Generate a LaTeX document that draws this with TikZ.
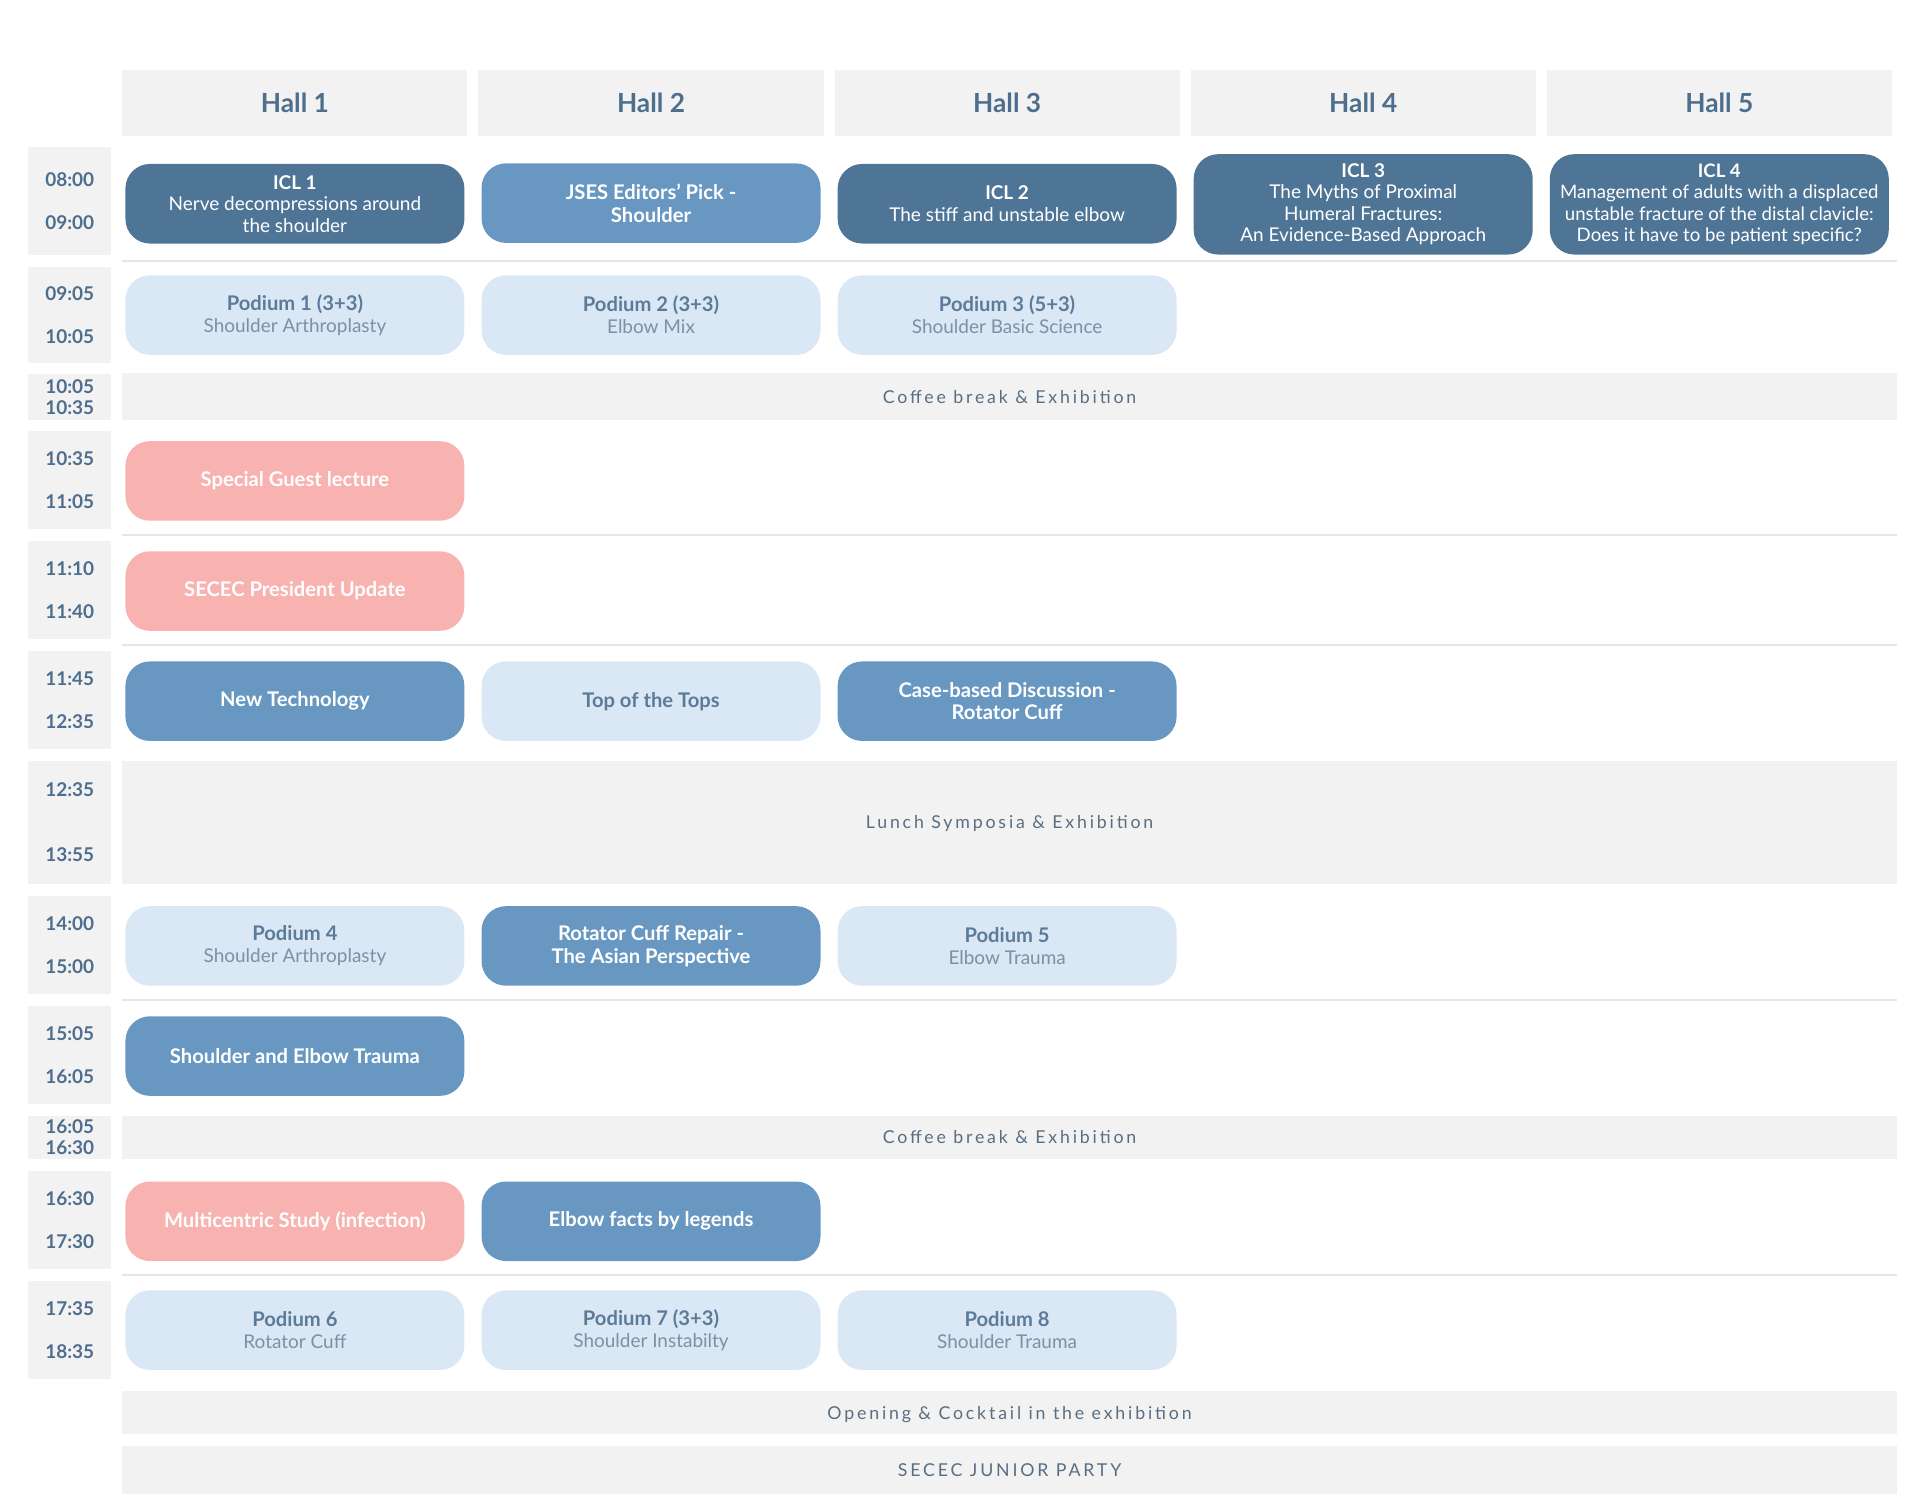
\documentclass[tikz,border=0pt]{standalone}
\usepackage{fontspec}
\setmainfont{Lato}
\newfontfamily\spacedfont{Lato}[LetterSpace=16]
\usetikzlibrary{calc}

\definecolor{hallblue}{HTML}{4E6E8E}
\definecolor{icldark}{HTML}{4F7596}
\definecolor{midblue}{HTML}{6898C2}
\definecolor{paleblue}{HTML}{DAE7F5}
\definecolor{rosepink}{HTML}{F8B3B1}
\definecolor{greyband}{HTML}{F2F2F2}
\definecolor{paletitle}{HTML}{5C7B99}
\definecolor{palesub}{HTML}{7D90A4}
\definecolor{rulegrey}{HTML}{E6E6E6}
\definecolor{bandtext}{HTML}{5A6E82}

\newcommand{\pod}[2]{{\fontsize{16.5}{18}\selectfont\bfseries\color{paletitle}#1}\\#2}

\tikzset{
    hallbox/.style={fill=greyband, minimum width=282pt, minimum height=54pt, text=hallblue, font=\fontsize{21.5}{24}\selectfont\bfseries},
    timebox/.style={fill=greyband, minimum width=68pt, inner sep=0pt, align=center, text=hallblue, font=\fontsize{15.5}{#1}\selectfont\bfseries},
    session/.style={rounded corners=20pt, minimum width=277pt, minimum height=65pt, inner sep=0pt, align=center},
    darkses/.style={session, fill=icldark, text=white, font=\fontsize{15.5}{17.5}\selectfont},
    midses/.style={session, fill=midblue, text=white, font=\fontsize{16.5}{18.5}\selectfont\bfseries},
    paleses/.style={session, fill=paleblue, text=palesub, font=\fontsize{15.5}{18}\selectfont},
    pinkses/.style={session, fill=rosepink, text=white, font=\fontsize{16.5}{18.5}\selectfont\bfseries},
    band/.style={fill=greyband, minimum width=1450pt, inner sep=0pt, text depth=0pt, text=bandtext, font=\fontsize{14.5}{16}\spacedfont}
}

\begin{document}
\begin{tikzpicture}[x=1pt,y=-1pt]
    \useasboundingbox (0,0) rectangle (1569,1234);
    \foreach \x [count=\i] in {241,532,823,1114,1405}
        \node[hallbox] (hall\i) at (\x,84) {Hall \i};
    \foreach \y/\h/\ta/\tb/\g [count=\i] in {164/88/08:00/09:00/35, 257.5/79/09:05/10:05/35, 324.5/37/10:05/10:35/17,
            392/80/10:35/11:05/35, 482/80/11:10/11:40/35, 572/80/11:45/12:35/35, 672/100/12:35/13:55/53,
            772/80/14:00/15:00/35, 862/80/15:05/16:05/35, 929.5/35/16:05/16:30/17, 997/80/16:30/17:30/35,
            1087/80/17:35/18:35/35}
        \node[timebox=\g, minimum height=\h pt, text depth=0pt] (time\i) at (57,\y) {\ta\\\tb};

    \foreach \y in {213,437,527,817,1042}
        \draw[rulegrey, line width=1.5pt] (100,\y) -- (1550,\y);

    \node[band, minimum height=38pt] (coffee1) at (825,324) {Coffee break \& Exhibition};
    \node[band, minimum height=100pt] (lunch) at (825,672) {Lunch Symposia \& Exhibition};
    \node[band, minimum height=35pt] (coffee2) at (825,929.5) {Coffee break \& Exhibition};
    \node[band, minimum height=35pt] (opening) at (825,1154.5) {Opening \& Cocktail in the exhibition};
    \node[band, minimum height=39pt] (junior) at (825,1201.5) {SECEC JUNIOR PARTY};

    \node[darkses] (icl1) at (241,166.5) {\textbf{ICL 1}\\Nerve decompressions around\\the shoulder};
    \node[midses] (jses) at (532,166) {JSES Editors’ Pick -\\Shoulder};
    \node[darkses] (icl2) at (823,166.5) {\textbf{ICL 2}\\The stiff and unstable elbow};
    \node[darkses, minimum height=82pt] (icl3) at (1114,167) {\textbf{ICL 3}\\The Myths of Proximal\\Humeral Fractures:\\An Evidence-Based Approach};
    \node[darkses, minimum height=82pt, font=\fontsize{15.2}{17.5}\selectfont] (icl4) at (1405,167) {\textbf{ICL 4}\\Management of adults with a displaced\\unstable fracture of the distal clavicle:\\Does it have to be patient specific?};

    \node[paleses] (pod1) at (241,257.5) {\pod{Podium 1 (3+3)}{Shoulder Arthroplasty}};
    \node[paleses] (pod2) at (532,257.5) {\pod{Podium 2 (3+3)}{Elbow Mix}};
    \node[paleses] (pod3) at (823,257.5) {\pod{Podium 3 (5+3)}{Shoulder Basic Science}};

    \node[pinkses] (guest) at (241,393) {Special Guest lecture};
    \node[pinkses] (president) at (241,483) {SECEC President Update};

    \node[midses] (newtech) at (241,573) {New Technology};
    \node[paleses, text=paletitle, font=\fontsize{16.5}{18}\selectfont\bfseries] (tops) at (532,573) {Top of the Tops};
    \node[midses] (casecuff) at (823,573) {Case-based Discussion -\\Rotator Cuff};

    \node[paleses] (pod4) at (241,773) {\pod{Podium 4}{Shoulder Arthroplasty}};
    \node[midses] (asian) at (532,773) {Rotator Cuff Repair -\\The Asian Perspective};
    \node[paleses] (pod5) at (823,773) {\pod{Podium 5}{Elbow Trauma}};

    \node[midses] (trauma) at (241,863) {Shoulder and Elbow Trauma};

    \node[pinkses] (multi) at (241,998) {Multicentric Study (infection)};
    \node[midses] (legends) at (532,998) {Elbow facts by legends};

    \node[paleses] (pod6) at (241,1087) {\pod{Podium 6}{Rotator Cuff}};
    \node[paleses] (pod7) at (532,1087) {\pod{Podium 7 (3+3)}{Shoulder Instabilty}};
    \node[paleses] (pod8) at (823,1087) {\pod{Podium 8}{Shoulder Trauma}};
\end{tikzpicture}
\end{document}
